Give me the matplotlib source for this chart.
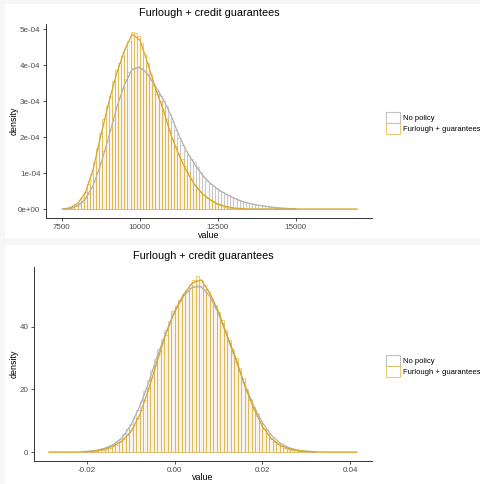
import numpy as np
import matplotlib
matplotlib.use("Agg")
import matplotlib.pyplot as plt
from matplotlib.patches import Patch, Rectangle
from matplotlib.colors import to_rgba
from matplotlib.ticker import FuncFormatter

plt.rcParams['font.family'] = ['Liberation Sans', 'DejaVu Sans']

# ---------------- data ----------------
title = "Furlough + credit guarantees"
labels = ["No policy", "Furlough + guarantees"]

# top panel: histogram (density, in units of 1e-4), bins of width 100
top_scale = 1e-4
top_bw = 100
top_grey_start = 7500
top_grey = [0.0, 0.005, 0.02, 0.04, 0.07, 0.12, 0.2, 0.3, 0.42, 0.58,
            0.78, 1.02, 1.3, 1.6, 1.9, 2.2, 2.48, 2.78, 3.1, 3.35,
            3.6, 3.8, 3.92, 3.95, 3.96, 3.93, 3.85, 3.72, 3.58, 3.42,
            3.28, 3.15, 3.0, 2.85, 2.62, 2.42, 2.2, 1.98, 1.78, 1.62,
            1.5, 1.4, 1.3, 1.16, 1.04, 0.9, 0.78, 0.7, 0.63, 0.57,
            0.51, 0.46, 0.42, 0.38, 0.34, 0.3, 0.26, 0.23, 0.2, 0.18,
            0.16, 0.14, 0.12, 0.1, 0.08, 0.07, 0.06, 0.05, 0.04, 0.03,
            0.025, 0.02, 0.015, 0.01]
top_yel_start = 7500
top_yel = [0.0, 0.01, 0.02, 0.05, 0.1, 0.18, 0.3, 0.47, 0.7, 0.98,
           1.3, 1.7, 2.12, 2.5, 2.85, 3.15, 3.55, 3.85, 4.05, 4.25,
           4.45, 4.68, 4.92, 4.88, 4.82, 4.6, 4.3, 4.05, 3.75, 3.45,
           3.2, 3.0, 2.75, 2.5, 2.2, 1.95, 1.75, 1.55, 1.38, 1.2,
           1.02, 0.85, 0.68, 0.56, 0.46, 0.38, 0.31, 0.26, 0.2, 0.15,
           0.11, 0.08, 0.06, 0.04, 0.03, 0.02, 0.01, 0.01, 0.005] + [0.0] * 36

# top panel: density curves
top_dens_grey_x = [7500, 7750, 8000, 8250, 8500, 8750, 9000, 9250, 9500, 9750,
                   10000, 10250, 10500, 10750, 11000, 11250, 11500, 11750, 12000,
                   12250, 12500, 12750, 13000, 13250, 13500, 13750, 14000, 14250,
                   14500, 14750, 15000]
top_dens_grey = [0.0, 0.02, 0.08, 0.28, 0.65, 1.25, 2.0, 2.8, 3.45, 3.88,
                 3.93, 3.75, 3.4, 3.05, 2.6, 2.05, 1.6, 1.25, 0.95,
                 0.72, 0.55, 0.42, 0.31, 0.22, 0.16, 0.11, 0.08, 0.05,
                 0.03, 0.015, 0.005]
top_dens_yel_x = [7550, 7750, 8000, 8250, 8500, 8750, 9000, 9250, 9500, 9750,
                  10000, 10250, 10500, 10750, 11000, 11250, 11500, 11750, 12000,
                  12250, 12500, 12750, 13000, 13250, 13500, 16950]
top_dens_yel = [0.0, 0.03, 0.15, 0.45, 1.1, 2.05, 2.95, 3.75, 4.4, 4.85,
                4.7, 4.05, 3.35, 2.75, 2.05, 1.5, 1.05, 0.68, 0.43,
                0.26, 0.14, 0.07, 0.03, 0.01, 0.0, 0.0]

# bottom panel: histogram (density), bins of width 0.0008
bot_bw = 0.0008
bot_grey_start = -0.0208
bot_grey = [0.2, 0.3, 0.45, 0.6, 0.85, 1.1, 1.5, 1.9, 2.5, 3.3,
            4.3, 5.6, 7.2, 9.0, 11.0, 13.4, 16.3, 19.5, 23.0, 26.3,
            29.6, 33.0, 36.0, 39.0, 42.0, 44.5,
            46.8, 48.6, 50.2, 51.4, 52.4, 53.0, 53.2, 52.9, 52.0, 50.5,
            48.6, 46.4, 44.0, 41.2, 38.2, 35.2, 32.0, 28.8, 25.6, 22.4,
            19.4, 16.5, 13.9, 11.5, 9.4, 7.5, 5.9, 4.6, 3.5, 2.6,
            1.9, 1.4, 1.0, 0.7, 0.5, 0.35, 0.25, 0.15, 0.1, 0.05]
bot_yel_start = -0.0288
bot_yel = [0.0] * 10 + [
    0.05, 0.15, 0.25, 0.35, 0.55, 0.8, 1.1, 1.4, 1.8, 2.3,
    3.1, 4.2, 5.5, 7.0, 8.6, 10.8, 13.4, 16.5, 20.3, 24.0,
    27.8, 31.3, 34.7, 37.5, 41.0, 45.0,
    46.8, 48.5, 50.5, 51.8, 53.5, 54.8, 56.3, 54.8, 53.2, 51.2,
    49.0, 47.0, 44.8, 42.3, 39.0, 35.8, 33.0, 30.0, 26.8, 23.5,
    20.2, 17.0, 14.4, 12.3, 9.8, 7.4, 5.6, 4.3, 3.2, 2.5,
    1.9, 1.4, 1.0, 0.7, 0.5, 0.35, 0.25, 0.15, 0.1, 0.05] + [0.0] * 12

# bottom panel: density curves
bot_dens_grey_x = [-0.021, -0.020, -0.018, -0.016, -0.014, -0.012, -0.010, -0.008,
                   -0.006, -0.004, -0.002, 0.000, 0.002, 0.004, 0.006, 0.008,
                   0.010, 0.012, 0.014, 0.016, 0.018, 0.020, 0.022, 0.024,
                   0.026, 0.028, 0.030, 0.032]
bot_dens_grey = [0.15, 0.2, 0.5, 1.2, 2.4, 4.6, 8.6, 14.5,
                 22.0, 30.5, 38.2, 44.8, 49.8, 52.6, 52.8, 49.8,
                 44.2, 36.8, 29.0, 21.5, 14.8, 9.4, 5.4, 2.9,
                 1.4, 0.6, 0.25, 0.1]
bot_dens_yel_x = [-0.0287, -0.026, -0.024, -0.022, -0.020, -0.018, -0.016, -0.014,
                  -0.012, -0.010, -0.008, -0.006, -0.004, -0.002, 0.000, 0.002,
                  0.004, 0.006, 0.008, 0.010, 0.012, 0.014, 0.016, 0.018,
                  0.020, 0.022, 0.024, 0.026, 0.028, 0.030, 0.032, 0.034,
                  0.036, 0.0415]
bot_dens_yel = [0.0, 0.0, 0.0, 0.02, 0.1, 0.35, 0.9, 1.9,
                3.6, 6.5, 11.8, 19.8, 29.0, 37.8, 45.0, 50.3,
                54.0, 55.0, 50.8, 44.8, 37.0, 29.8, 21.0, 14.0,
                8.2, 4.4, 2.2, 1.1, 0.5, 0.2, 0.06, 0.02,
                0.0, 0.0]

# ---------------- style ----------------
W, H = 480, 484
GREY = "#C2C2C2"
GREY_LINE = "#B3B3B3"
YEL = "#E3B848"
YEL_LINE = "#D9A628"
AXC = "#333333"
TXC = "#4D4D4D"


def fx(px):
    return px / W


def fy(py):
    return 1 - py / H


def hist(ax, start, bw, vals, scale, color):
    vals = np.asarray(vals) * scale
    centers = start + bw * (np.arange(len(vals)) + 0.5)
    ax.bar(centers, vals, width=bw, facecolor=to_rgba(color, 0.08),
           edgecolor=to_rgba(color, 0.8), linewidth=0.6)


def style_axes(ax):
    for s in ["top", "right"]:
        ax.spines[s].set_visible(False)
    for s in ["left", "bottom"]:
        ax.spines[s].set_color(AXC)
        ax.spines[s].set_linewidth(0.7)
    ax.tick_params(length=2.5, width=0.6, color=AXC, labelcolor=TXC,
                   labelsize=5.8, pad=1.5)


fig = plt.figure(figsize=(W / 100, H / 100), dpi=100, facecolor="#F6F6F6")
fig.patches.append(Rectangle((fx(5), fy(238)), 1, fy(4) - fy(238),
                             transform=fig.transFigure, facecolor="white",
                             edgecolor="none", zorder=-10))
fig.patches.append(Rectangle((fx(5), fy(484)), 1, fy(245) - fy(484),
                             transform=fig.transFigure, facecolor="white",
                             edgecolor="none", zorder=-10))

handles = [Patch(facecolor="white", edgecolor=GREY, linewidth=0.8),
           Patch(facecolor="white", edgecolor=to_rgba(YEL, 0.75), linewidth=0.8)]

# ---------------- top panel ----------------
ax1 = fig.add_axes([fx(46), fy(218), (372 - 46) / W, (218 - 24) / H])
ax1.set_facecolor("none")
hist(ax1, top_grey_start, top_bw, top_grey, top_scale, GREY)
hist(ax1, top_yel_start, top_bw, top_yel, top_scale, YEL)
ax1.plot(top_dens_grey_x, np.asarray(top_dens_grey) * top_scale, color=GREY_LINE, lw=0.9)
ax1.plot(top_dens_yel_x, np.asarray(top_dens_yel) * top_scale, color=YEL_LINE, lw=0.9)
ax1.set_xlim(6990, 17440)
ax1.set_ylim(-0.25e-4, 5.14e-4)
ax1.set_xticks([7500, 10000, 12500, 15000])
ax1.set_yticks([0, 1e-4, 2e-4, 3e-4, 4e-4, 5e-4])
ax1.yaxis.set_major_formatter(FuncFormatter(lambda v, p: f"{v:.0e}"))
style_axes(ax1)
fig.text(fx(209), fy(13), title, ha="center", va="center", fontsize=7.8)
fig.text(fx(14), fy(121), "density", ha="center", va="center", rotation=90, fontsize=6.4)
fig.text(fx(209), fy(236), "value", ha="center", va="center", fontsize=6.4)
fig.legend(handles, labels, loc="center left", bbox_to_anchor=(fx(386), fy(123)),
           frameon=False, fontsize=5.5, handlelength=1.78, handleheight=1.78,
           handletextpad=0.5, labelspacing=0.05, borderpad=0, borderaxespad=0)

# ---------------- bottom panel ----------------
ax2 = fig.add_axes([fx(34), fy(461), (372 - 34) / W, (461 - 267) / H])
ax2.set_facecolor("none")
hist(ax2, bot_grey_start, bot_bw, bot_grey, 1, GREY)
hist(ax2, bot_yel_start, bot_bw, bot_yel, 1, YEL)
ax2.plot(bot_dens_grey_x, bot_dens_grey, color=GREY_LINE, lw=0.9)
ax2.plot(bot_dens_yel_x, bot_dens_yel, color=YEL_LINE, lw=0.9)
ax2.set_xlim(-0.0321, 0.0450)
ax2.set_ylim(-2.87, 59.1)
ax2.set_xticks([-0.02, 0.0, 0.02, 0.04])
ax2.set_xticklabels(["-0.02", "0.00", "0.02", "0.04"])
ax2.set_yticks([0, 20, 40])
style_axes(ax2)
fig.text(fx(203), fy(256), title, ha="center", va="center", fontsize=7.8)
fig.text(fx(14), fy(364), "density", ha="center", va="center", rotation=90, fontsize=6.4)
fig.text(fx(203), fy(478), "value", ha="center", va="center", fontsize=6.4)
fig.legend(handles, labels, loc="center left", bbox_to_anchor=(fx(386), fy(366)),
           frameon=False, fontsize=5.5, handlelength=1.78, handleheight=1.78,
           handletextpad=0.5, labelspacing=0.05, borderpad=0, borderaxespad=0)

fig.savefig("out.png", dpi=100, facecolor=fig.get_facecolor())
